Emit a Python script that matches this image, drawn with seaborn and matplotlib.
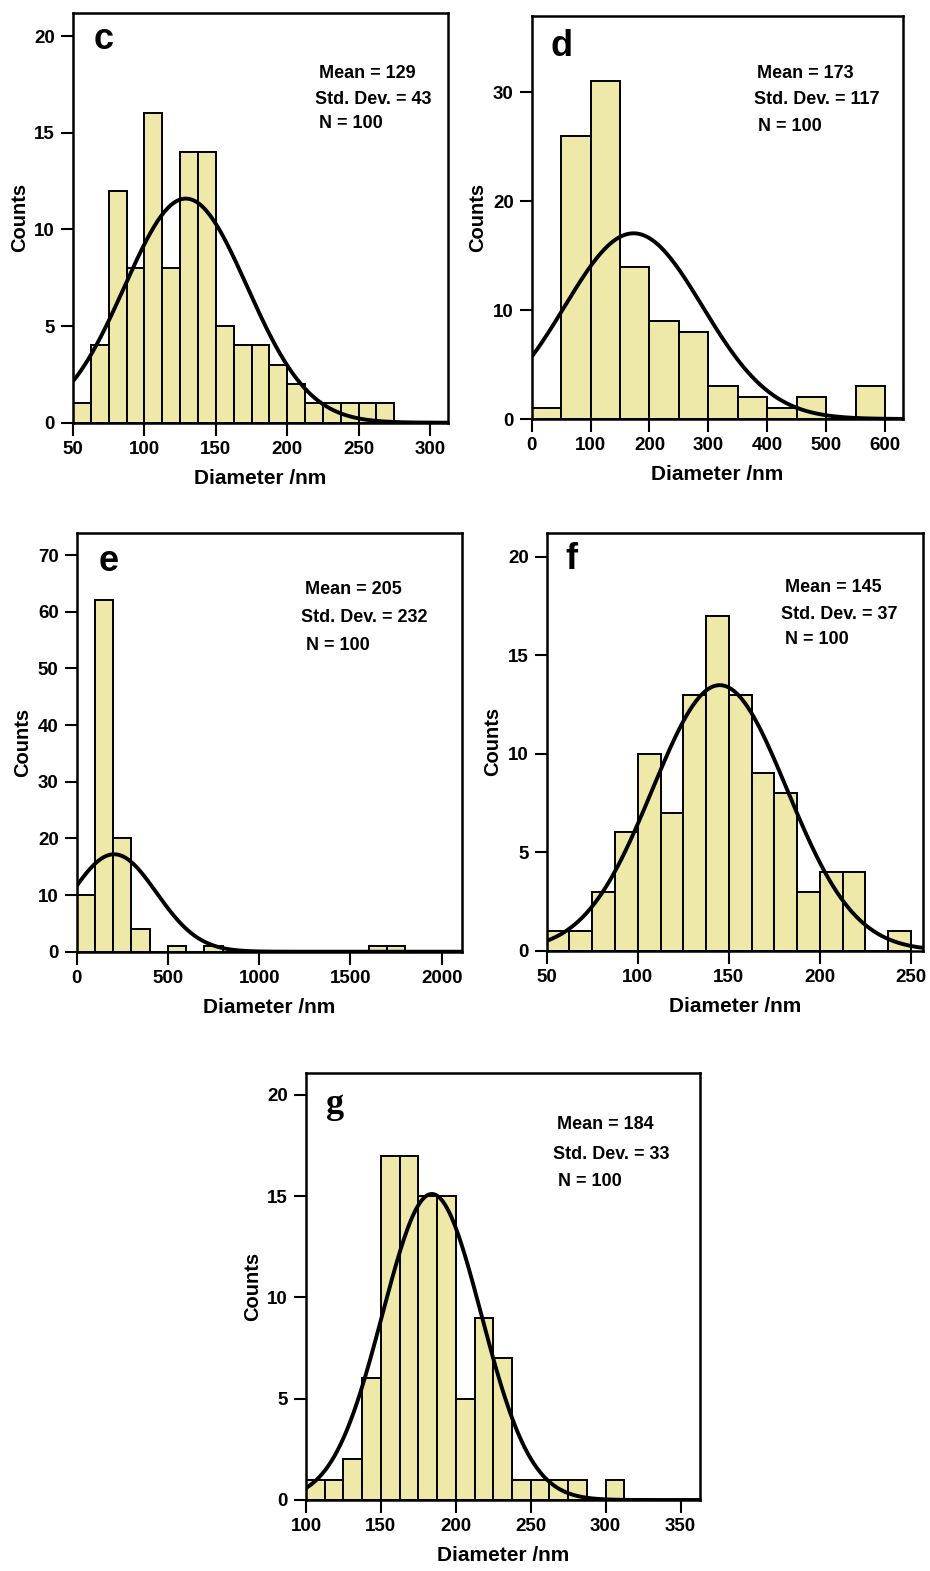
import numpy as np
import pandas as pd
import matplotlib
matplotlib.use("Agg")
import matplotlib.pyplot as plt
import seaborn as sns

# ---- histogram counts (one bar per bin), bin layout and fit statistics ----
c_counts = [1, 4, 12, 8, 16, 8, 14, 14, 5, 4, 4, 3, 2, 1, 1, 1, 1, 1]
c_start, c_width = 50, 12.5
c_mean, c_sd, c_n = 129, 43, 100

d_counts = [1, 26, 31, 14, 9, 8, 3, 2, 1, 2, 0, 3]
d_start, d_width = 0, 50
d_mean, d_sd, d_n = 173, 117, 100

e_counts = [10, 62, 20, 4, 0, 1, 0, 1, 0, 0, 0, 0, 0, 0, 0, 0, 1, 1]
e_start, e_width = 0, 100
e_mean, e_sd, e_n = 205, 232, 100

f_counts = [1, 1, 3, 6, 10, 7, 13, 17, 13, 9, 8, 3, 4, 4, 0, 1]
f_start, f_width = 50, 12.5
f_mean, f_sd, f_n = 145, 37, 100

g_counts = [1, 1, 2, 6, 17, 17, 15, 15, 5, 9, 7, 1, 1, 1, 1, 0, 1]
g_start, g_width = 100, 12.5
g_mean, g_sd, g_n = 184, 33, 100

c_xticks = [50, 100, 150, 200, 250, 300]
d_xticks = [0, 100, 200, 300, 400, 500, 600]
e_xticks = [0, 500, 1000, 1500, 2000]
f_xticks = [50, 100, 150, 200, 250]
g_xticks = [100, 150, 200, 250, 300, 350]

c_yticks = [0, 5, 10, 15, 20]
d_yticks = [0, 10, 20, 30]
e_yticks = [0, 10, 20, 30, 40, 50, 60, 70]
f_yticks = [0, 5, 10, 15, 20]
g_yticks = [0, 5, 10, 15, 20]

FILL = "#EEE9A8"
W, H = 930, 1571

sns.set_style("ticks")
plt.rcParams["font.family"] = ["Liberation Sans", "DejaVu Sans"]
plt.rcParams["font.weight"] = "bold"
for key in ("text.color", "axes.labelcolor", "xtick.color", "ytick.color", "axes.edgecolor"):
    plt.rcParams[key] = "black"

fig = plt.figure(figsize=(W / 100, H / 100), dpi=100)


def px_axes(left, right, top, bottom):
    return fig.add_axes([left / W, 1 - bottom / H, (right - left) / W, (bottom - top) / H])


panels = [
    # letter, counts, start, width, mean, sd, n, xlim, ylim, xticks, yticks, box(px), text pos, letter pos, letter family
    ("c", c_counts, c_start, c_width, c_mean, c_sd, c_n, (50, 312.6), (0, 21.2), c_xticks, c_yticks,
     (73, 448, 13, 422.7), (0.645, [0.853, 0.788, 0.731]), (0.055, 0.935), "Liberation Sans"),
    ("d", d_counts, d_start, d_width, d_mean, d_sd, d_n, (0, 630.6), (0, 37), d_xticks, d_yticks,
     (531.7, 903, 16, 419), (0.598, [0.858, 0.792, 0.725]), (0.05, 0.925), "Liberation Sans"),
    ("e", e_counts, e_start, e_width, e_mean, e_sd, e_n, (0, 2110), (0, 73.9), e_xticks, e_yticks,
     (76.7, 461.7, 533, 951.7), (0.583, [0.864, 0.797, 0.732]), (0.058, 0.932), "Liberation Sans"),
    ("f", f_counts, f_start, f_width, f_mean, f_sd, f_n, (50, 256.6), (0, 21.2), f_xticks, f_yticks,
     (546.7, 923, 533, 950.7), (0.622, [0.870, 0.804, 0.744]), (0.05, 0.936), "Liberation Sans"),
    ("g", g_counts, g_start, g_width, g_mean, g_sd, g_n, (100, 363), (0, 21.1), g_xticks, g_yticks,
     (306, 700, 1072.7, 1500), (0.627, [0.878, 0.808, 0.746]), (0.05, 0.925), "Liberation Serif"),
]

for (letter, counts, start, width, mean, sd, n, xlim, ylim, xticks, yticks,
     box, txt, lpos, lfam) in panels:
    ax = px_axes(*box)
    counts = np.asarray(counts, dtype=float)
    edges = [start + width * i for i in range(len(counts) + 1)]
    centers = [start + width * (i + 0.5) for i in range(len(counts))]
    df = pd.DataFrame({"diameter": centers, "count": counts})

    sns.histplot(data=df, x="diameter", weights="count", bins=edges, ax=ax,
                 color=FILL, edgecolor="black", linewidth=1.4, alpha=1.0)

    # fitted normal curve from the stated mean / SD, scaled to counts per bin
    xs = np.linspace(xlim[0], xlim[1], 500)
    ys = n * width * np.exp(-0.5 * ((xs - mean) / sd) ** 2) / (sd * np.sqrt(2 * np.pi))
    sns.lineplot(x=xs, y=ys, ax=ax, color="black", linewidth=2.8, sort=False)

    ax.set_xlim(*xlim)
    ax.set_ylim(*ylim)
    ax.set_xticks(xticks)
    ax.set_yticks(yticks)
    ax.tick_params(direction="out", length=9, width=1.5, labelsize=13.5, pad=4,
                   top=False, right=False, colors="black")
    for lbl in ax.get_xticklabels() + ax.get_yticklabels():
        lbl.set_fontweight("bold")
    for sp in ax.spines.values():
        sp.set_visible(True)
        sp.set_linewidth(1.8)
        sp.set_color("black")

    ax.set_xlabel("Diameter /nm", fontsize=15, fontweight="bold", labelpad=8)
    ax.set_ylabel("Counts", fontsize=14.5, fontweight="bold", labelpad=4)

    ax.text(lpos[0], lpos[1], letter, transform=ax.transAxes, fontsize=26,
            fontweight="bold", family=lfam, ha="left", va="center")

    lines = [f"Mean = {mean}", f"Std. Dev. = {sd}", f"N = {n}"]
    offs = [0.01, 0.0, 0.012]
    for s, yy, dx in zip(lines, txt[1], offs):
        ax.text(txt[0] + dx, yy, s, transform=ax.transAxes, fontsize=13,
                fontweight="bold", ha="left", va="center")

fig.savefig("out.png", dpi=100, facecolor="white")
